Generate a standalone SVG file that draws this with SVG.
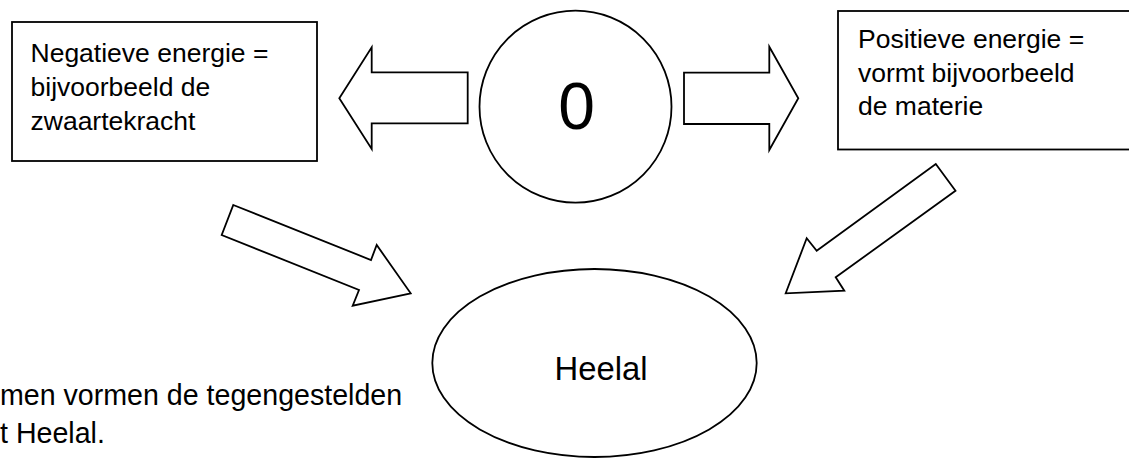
<svg xmlns="http://www.w3.org/2000/svg" width="1129" height="458" viewBox="0 0 1129 458">
<style>
.shape{fill:#ffffff;stroke:#000000;stroke-width:1.8;stroke-linejoin:miter}
.t{font-family:"Liberation Sans",Arial,sans-serif;fill:#000000}
.box{font-size:26.5px}
</style>
<rect x="0" y="0" width="1129" height="458" fill="#ffffff"/>
<g id="connectors">
<polygon class="shape" points="467.7,72.3 371.7,72.3 371.7,47.3 339.3,98.3 371.7,149 371.7,123.3 467.7,123.3"/>
<polygon class="shape" points="684,72.7 769.3,72.7 769.3,46.7 798.3,98.3 769.3,150 769.3,124 684,124"/>
<polygon class="shape" points="233.3,205 371,260 376.7,245 410.7,293.3 352.7,305.7 359,290 221.7,235"/>
<polygon class="shape" points="935.8,164 955.5,190.7 835.7,277.3 844.3,290.7 785.7,293.3 806.7,238.3 816.7,250.7"/>
</g>
<g id="node-negatief">
<rect class="shape" x="12" y="22" width="305" height="139"/>
<text class="t box" x="30.5" y="62">Negatieve energie =</text>
<text class="t box" x="30.5" y="96">bijvoorbeeld de</text>
<text class="t box" x="30.5" y="130">zwaartekracht</text>
</g>
<g id="node-nul">
<circle class="shape" cx="575.5" cy="106.7" r="96"/>
<text class="t" x="576.5" y="129.3" font-size="66" text-anchor="middle">0</text>
</g>
<g id="node-positief">
<rect class="shape" x="838" y="11" width="300" height="138.5"/>
<text class="t box" x="858" y="48.3">Positieve energie =</text>
<text class="t box" x="858" y="81.7">vormt bijvoorbeeld</text>
<text class="t box" x="858" y="115">de materie</text>
</g>
<g id="node-heelal">
<ellipse class="shape" cx="594.5" cy="363" rx="162.2" ry="94"/>
<text class="t" x="554.5" y="380" font-size="32.8">Heelal</text>
</g>
<g id="caption">
<text class="t" x="0" y="405" font-size="28.6">men vormen de tegengestelden</text>
<text class="t" x="0" y="443.3" font-size="28.6">t Heelal.</text>
</g>
</svg>
